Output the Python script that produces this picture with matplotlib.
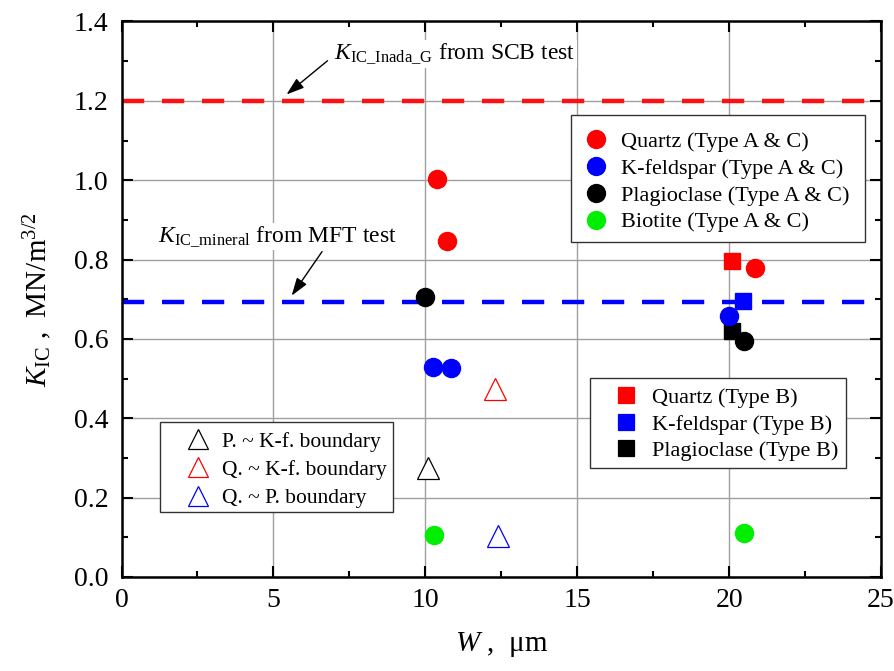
import numpy as np
import matplotlib.pyplot as plt
from matplotlib.lines import Line2D
from matplotlib.patches import Rectangle

plt.rcParams['font.family'] = ['Liberation Serif', 'DejaVu Serif']
plt.rcParams['mathtext.fontset'] = 'custom'
plt.rcParams['mathtext.rm'] = 'Liberation Serif'
plt.rcParams['mathtext.it'] = 'Liberation Serif:italic'

# ── Données ──────────────────────────────────────────────────────────────────
# Type A & C (cercles)
qz_ac_w = [10.4, 10.7, 20.85]
qz_ac_k = [1.003, 0.848, 0.778]
kf_ac_w = [10.25, 10.85, 20.0]
kf_ac_k = [0.530, 0.527, 0.657]
pl_ac_w = [10.0, 20.5]
pl_ac_k = [0.706, 0.594]
bi_ac_w = [10.3, 20.5]
bi_ac_k = [0.106, 0.112]

# Type B (carrés)
qz_b_w, qz_b_k = [20.1], [0.797]
kf_b_w, kf_b_k = [20.45], [0.695]
pl_b_w, pl_b_k = [20.1], [0.620]

# Joints de grains (triangles)
pk_w, pk_k = [10.1], [0.275]
qk_w, qk_k = [12.3], [0.473]
qp_w, qp_k = [12.4], [0.103]

K_SCB = 1.20
K_MFT = 0.692

RED, BLUE, GREEN = '#ff0000', '#0000ff', '#00ee00'

fig = plt.figure(figsize=(8.95, 6.71), dpi=100)
ax = fig.add_axes([0.1358, 0.1401, 0.8486, 0.8279])

ax.set_xlim(0, 25)
ax.set_ylim(0, 1.4)
ax.set_xticks(np.arange(0, 26, 5))
ax.set_xticks(np.arange(0, 25.1, 2.5), minor=True)
ax.set_yticks(np.arange(0, 1.41, 0.2))
ax.set_yticks(np.arange(0, 1.41, 0.1), minor=True)
ax.set_yticklabels([f"{v:.1f}" for v in np.arange(0, 1.41, 0.2)])
ax.tick_params(which='both', direction='in', top=True, right=True,
               labelsize=20, width=1.5)
ax.tick_params(which='major', length=8)
ax.tick_params(which='minor', length=4.5)
ax.tick_params(axis='y', pad=9.5)
ax.tick_params(axis='x', pad=8)
for s in ax.spines.values():
    s.set_linewidth(1.8)
ax.grid(True, which='major', color='#a0a0a0', linewidth=1.0)
ax.set_axisbelow(True)

# ── Lignes de référence ─────────────────────────────────────────────────────
ax.axhline(K_SCB, color='#ff1010', lw=3.2, dashes=(5.0, 4.0), zorder=2)
ax.axhline(K_MFT, color=BLUE, lw=3.2, dashes=(5.0, 4.0), zorder=2)

# ── Points ───────────────────────────────────────────────────────────────────
ms_c, ms_s, ms_t = 13, 12, 15.5
ax.plot(qz_ac_w, qz_ac_k, 'o', color=RED, ms=ms_c, zorder=4)
ax.plot(kf_ac_w, kf_ac_k, 'o', color=BLUE, ms=ms_c, zorder=4)
ax.plot(pl_ac_w, pl_ac_k, 'o', color='black', ms=ms_c, zorder=4)
ax.plot(bi_ac_w, bi_ac_k, 'o', color=GREEN, ms=ms_c, zorder=4)
ax.plot(qz_b_w, qz_b_k, 's', color=RED, ms=ms_s, zorder=3)
ax.plot(kf_b_w, kf_b_k, 's', color=BLUE, ms=ms_s, zorder=5)
ax.plot(pl_b_w, pl_b_k, 's', color='black', ms=ms_s, zorder=3)
ax.plot(pk_w, pk_k, '^', mfc='white', mec='black', ms=ms_t, mew=0.9, zorder=4)
ax.plot(qk_w, qk_k, '^', mfc='white', mec=RED, ms=ms_t, mew=0.9, zorder=4)
ax.plot(qp_w, qp_k, '^', mfc='white', mec=BLUE, ms=ms_t, mew=0.9, zorder=4)

# ── Annotations ──────────────────────────────────────────────────────────────
box = dict(facecolor='white', edgecolor='none', pad=1)
fleche = dict(arrowstyle='-|>,head_length=0.6,head_width=0.2', color='black',
              lw=1.0, shrinkA=0, shrinkB=0, mutation_scale=18)
ax.text(7.0, 1.318, r"$K_{\rm IC\_Inada\_G}$ from SCB test", fontsize=17,
        va='center', ha='left', bbox=box, zorder=6)
ax.annotate("", xy=(5.43, 1.216), xytext=(6.78, 1.301), arrowprops=fleche,
            zorder=6)
ax.text(1.2, 0.858, r"$K_{\rm IC\_mineral}$ from MFT test", fontsize=17,
        va='center', ha='left', bbox=box, zorder=6)
ax.annotate("", xy=(5.6, 0.709), xytext=(6.6, 0.82), arrowprops=fleche,
            zorder=6)

ax.set_xlabel(r"$W$ ,  μm", fontsize=21, labelpad=12)
ax.set_ylabel(r"$K_{\rm IC}$ ,  MN/m$^{3/2}$", fontsize=21, labelpad=14)

# ── Légendes (cadres dessinés à part) ───────────────────────────────────────
def h(marker, fc, ec, ms):
    return Line2D([], [], ls='none', marker=marker, mfc=fc, mec=ec, ms=ms,
                  mew=0.9)

def cadre(x0, y0, x1, y1):
    ax.add_patch(Rectangle((x0, y0), x1 - x0, y1 - y0, transform=ax.transAxes,
                           facecolor='white', edgecolor='#333333', lw=1.0,
                           zorder=7))

leg_kw = dict(frameon=False, borderpad=0, borderaxespad=0, handlelength=1.2,
              handletextpad=0.55, loc='center left')

cadre(0.592, 0.603, 0.979, 0.832)
leg1 = ax.legend([h('o', RED, RED, 13), h('o', BLUE, BLUE, 13),
                  h('o', 'black', 'black', 13), h('o', GREEN, GREEN, 13)],
                 ["Quartz (Type A & C)", "K-feldspar (Type A & C)",
                  "Plagioclase (Type A & C)", "Biotite (Type A & C)"],
                 bbox_to_anchor=(0.607, 0.711), fontsize=16,
                 labelspacing=0.28, **leg_kw)
leg1.set_zorder(8)
ax.add_artist(leg1)

cadre(0.617, 0.196, 0.954, 0.358)
leg2 = ax.legend([h('s', RED, RED, 12), h('s', BLUE, BLUE, 12),
                  h('s', 'black', 'black', 12)],
                 ["Quartz (Type B)", "K-feldspar (Type B)", "Plagioclase (Type B)"],
                 bbox_to_anchor=(0.647, 0.275), fontsize=16,
                 labelspacing=0.26, **leg_kw)
leg2.set_zorder(8)
ax.add_artist(leg2)

cadre(0.0507, 0.117, 0.357, 0.279)
leg3 = ax.legend([h('^', 'white', 'black', 15), h('^', 'white', RED, 15),
                  h('^', 'white', BLUE, 15)],
                 ["P. ~ K-f. boundary", "Q. ~ K-f. boundary", "Q. ~ P. boundary"],
                 bbox_to_anchor=(0.0832, 0.193), fontsize=15.5,
                 labelspacing=0.38, **leg_kw)
leg3.set_zorder(8)

fig.savefig("out.png", dpi=100)
